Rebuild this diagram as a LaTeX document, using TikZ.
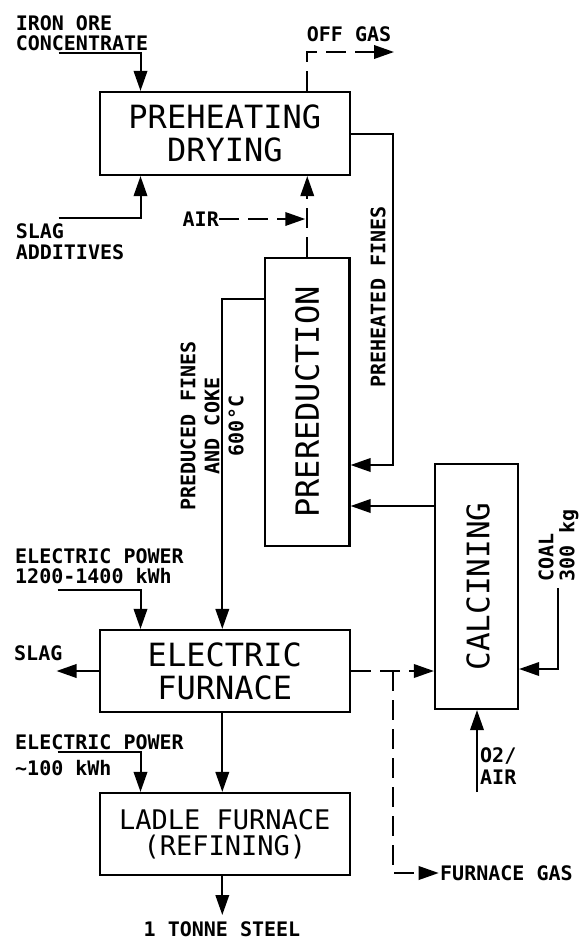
\documentclass[tikz,border=0pt]{standalone}
\usepackage{fontspec}
\setmonofont{DejaVu Sans Mono}
\usetikzlibrary{arrows.meta}
\newcommand\fbigx{\fontsize{32}{33}\selectfont\ttfamily}
\newcommand\fladx{\fontsize{27}{26}\selectfont\ttfamily}
\newcommand\fcalx{\fontsize{31}{33}\selectfont\ttfamily}
\newcommand\fsmallx{\fontsize{20}{20}\selectfont\ttfamily\bfseries}
\tikzset{
  ln/.style={line width=2pt},
  arr/.style={ln, -{Triangle[length=20pt,width=13.5pt]}},
  dsh/.style={dash pattern=on 20pt off 9pt},
  procbox/.style={draw, line width=2.2pt, inner sep=0pt, align=center, font=\fbigx},
  lab/.style={inner sep=0pt, font=\fsmallx},
}
\begin{document}
\begin{tikzpicture}[x=1pt,y=-1pt]
\fill[white] (0,0) rectangle (583,940);
\useasboundingbox (0,0) rectangle (583,940);

% process boxes
\node[procbox, minimum width=250.4pt, minimum height=83pt] (ph) at (224.8,133.5) {PREHEATING\\DRYING};
\node[procbox, minimum width=84.5pt, minimum height=288pt] (pr) at (307.25,402) {};
\node[font=\fbigx, rotate=90, inner sep=0pt] (prt) at (pr.center) {PREREDUCTION};
\node[procbox, minimum width=250.4pt, minimum height=82pt] (ef) at (224.8,671) {ELECTRIC\\FURNACE};
\node[procbox, font=\fladx, minimum width=250.4pt, minimum height=82pt] (lf) at (224.8,834) {LADLE FURNACE\\(REFINING)};
\node[procbox, minimum width=83pt, minimum height=245pt] (ca) at (476.5,586.5) {};
\node[font=\fcalx, rotate=90, inner sep=0pt] (cat) at (478,586.5) {CALCINING};

% labels
\node[lab, anchor=west, align=left] (iol) at (15.6,33) {IRON ORE\\CONCENTRATE};
\node[lab] (ogl) at (349,34) {OFF GAS};
\node[lab, anchor=west, align=left] (sal) at (15.6,241.5) {SLAG\\[1pt]ADDITIVES};
\node[lab, anchor=east] (airl) at (219,219) {AIR};
\node[lab, rotate=90] (pfl) at (378,297) {PREHEATED FINES};
\node[lab, rotate=90, align=center] (rfl) at (212,426) {PREDUCED FINES\\[4pt]AND COKE\\[4pt]600°C};
\node[lab, anchor=west, align=left] (ep1l) at (15,566) {ELECTRIC POWER\\1200-1400 kWh};
\node[lab, anchor=west] (slagl) at (14,653) {SLAG};
\node[lab, rotate=90, anchor=west, align=left] (coall) at (558.5,582) {COAL\\[1pt]300 kg};
\node[lab, anchor=west, align=left] (o2l) at (480,766) {O2/\\[2pt]AIR};
\node[lab, anchor=west, align=left] (ep2l) at (15,755) {ELECTRIC POWER\\[6pt]\textasciitilde100 kWh};
\node[lab, anchor=west] (fgl) at (440,873) {FURNACE GAS};
\node[lab] (stl) at (222,929) {1 TONNE STEEL};

% helper coordinates
\coordinate (ioX) at (140.5,0);
\coordinate (ioS) at (58.7,53);
\coordinate (saS) at (58.7,218);
\coordinate (ogE) at (394,52);
\coordinate (pf1) at (393,133.5);
\coordinate (pf2) at (393,465);
\coordinate (cp) at (435,506);
\coordinate (rf) at (222.3,299);
\coordinate (ep1) at (57.6,590);
\coordinate (ep2) at (57.6,752);
\coordinate (slagE) at (56.5,671);
\coordinate (fg) at (393,671);
\coordinate (fg2) at (393,873);
\coordinate (fgE) at (438.7,873);
\coordinate (coal) at (558,588);
\coordinate (coalY) at (0,669);
\coordinate (o2) at (477,792);
\coordinate (steel) at (222.3,915);

% connectors
\draw[arr] (ioS) -| (ioX |- ph.north);
\draw[arr] (saS) -| (ioX |- ph.south);
\draw[arr, dsh] (pr.north |- ph.north) |- (ogE);
\draw[arr, dsh] (pr.north) -- (pr.north |- ph.south);
\draw[arr, dsh] (airl.east) -- ([xshift=-2pt]pr.north |- airl.east);
\draw[arr] (ph.east) -- (pf1) -- (pf2) -- (pf2 -| pr.east);
\draw[arr] (cp) -- (cp -| pr.east);
\draw[arr] (rf -| pr.west) -- (rf) -- (rf |- ef.north);
\draw[arr] (ep1) -| (ioX |- ef.north);
\draw[arr] (ef.west) -- (slagE);
\draw[arr, dsh] (ef.east) -- (ef.east -| ca.west);
\draw[arr, dsh] (fg) -- (fg2) -- (fgE);
\draw[arr] (coal) |- (ca.east |- coalY);
\draw[arr] (o2) -- (o2 |- ca.south);
\draw[arr] (rf |- ef.south) -- (rf |- lf.north);
\draw[arr] (ep2) -| (ioX |- lf.north);
\draw[arr] (rf |- lf.south) -- (steel);
\end{tikzpicture}
\end{document}
